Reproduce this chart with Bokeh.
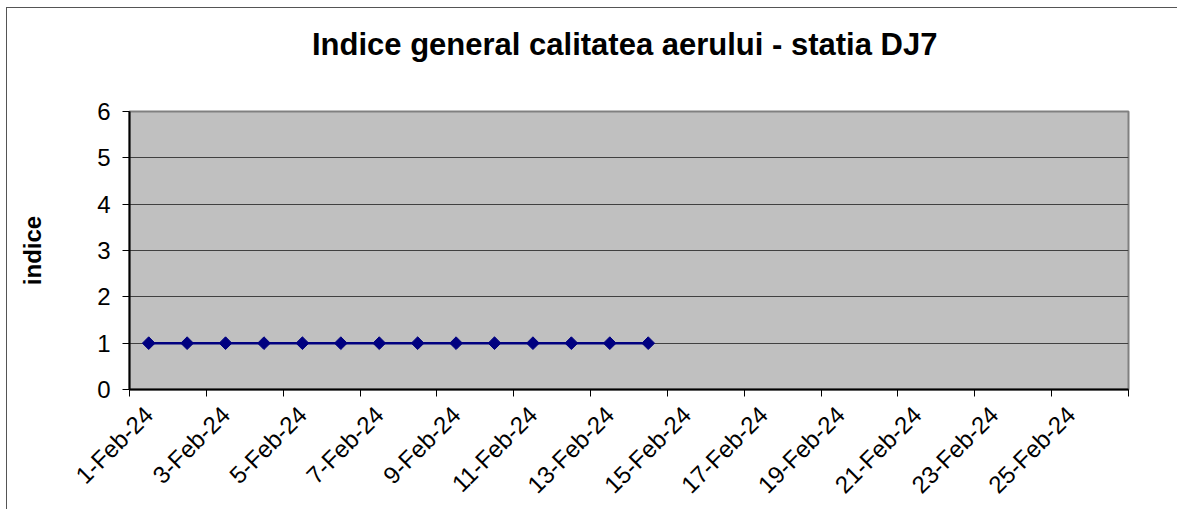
import math
from bokeh.plotting import figure
from bokeh.models import FixedTicker, Range1d, ColumnDataSource, Title
from bokeh.embed import file_html
from bokeh.resources import INLINE

# ---- data ----
categories = ["1-Feb-24", "2-Feb-24", "3-Feb-24", "4-Feb-24", "5-Feb-24", "6-Feb-24",
              "7-Feb-24", "8-Feb-24", "9-Feb-24", "10-Feb-24", "11-Feb-24", "12-Feb-24",
              "13-Feb-24", "14-Feb-24", "15-Feb-24", "16-Feb-24", "17-Feb-24", "18-Feb-24",
              "19-Feb-24", "20-Feb-24", "21-Feb-24", "22-Feb-24", "23-Feb-24", "24-Feb-24",
              "25-Feb-24", "26-Feb-24"]
nan = float("nan")
indice = [1, 1, 1, 1, 1, 1, 1, 1, 1, 1, 1, 1, 1, 1,
          nan, nan, nan, nan, nan, nan, nan, nan, nan, nan, nan, nan]
y_ticks = [0, 1, 2, 3, 4, 5, 6]
title_text = "Indice general calitatea aerului -  statia DJ7"
y_label = "indice"

n = len(categories)
xs = [i + 0.5 for i in range(n)]
src = ColumnDataSource(dict(x=xs, y=indice, cat=categories))

FONT = "Liberation Sans"
NAVY = "#000080"

p = figure(width=1171, height=502, title=None,
           x_range=Range1d(0, n), y_range=Range1d(min(y_ticks), max(y_ticks)),
           output_backend="svg", toolbar_location=None,
           min_border_left=122, min_border_right=50,
           min_border_top=103, min_border_bottom=121)

p.styles = {"margin-left": "6px", "margin-top": "7px",
            "border-top": "1px solid #555555", "border-left": "1px solid #555555"}

p.background_fill_color = "#C0C0C0"
p.border_fill_color = "white"
p.outline_line_color = "#808080"
p.outline_line_width = 2

# spacer between frame and title, then the title itself
p.add_layout(Title(text=" ", text_font_size="1px", standoff=42), "above")
p.add_layout(Title(text=title_text, align="center", text_font=FONT,
                   text_font_size="31px", text_font_style="bold",
                   text_color="black", standoff=10), "above")

# grid
p.xgrid.visible = False
p.ygrid.ticker = FixedTicker(ticks=y_ticks)
p.ygrid.grid_line_color = "#404040"
p.ygrid.grid_line_width = 1

# y axis
ya = p.yaxis[0]
ya.ticker = FixedTicker(ticks=y_ticks)
ya.axis_line_color = "black"
ya.axis_line_width = 2
ya.major_tick_out = 7
ya.major_tick_in = 0
ya.major_tick_line_color = "black"
ya.minor_tick_line_color = None
ya.major_label_text_font = FONT
ya.major_label_text_font_size = "24px"
ya.major_label_text_color = "black"
ya.major_label_standoff = 12
ya.axis_label = y_label
ya.axis_label_text_font = FONT
ya.axis_label_text_font_size = "24px"
ya.axis_label_text_font_style = "bold"
ya.axis_label_text_color = "black"
ya.axis_label_standoff = 48

# x axis: labels on every other category centre, ticks on category boundaries
label_pos = [xs[i] for i in range(0, n, 2)]
tick_pos = [float(i) for i in range(0, n + 1, 2)]
xa = p.xaxis[0]
xa.ticker = FixedTicker(ticks=label_pos, minor_ticks=tick_pos)
xa.major_label_overrides = {xs[i]: categories[i] for i in range(0, n, 2)}
xa.axis_line_color = "black"
xa.axis_line_width = 2
xa.major_tick_line_color = None
xa.major_tick_out = 7
xa.major_tick_in = 0
xa.minor_tick_line_color = "black"
xa.minor_tick_out = 7
xa.minor_tick_in = 0
xa.major_label_orientation = math.pi / 4
xa.major_label_text_font = FONT
xa.major_label_text_font_size = "24px"
xa.major_label_text_color = "black"
xa.major_label_standoff = 14

# series
p.line("x", "y", source=src, line_color=NAVY, line_width=2.5)
p.scatter("x", "y", source=src, marker="square", angle=math.pi / 4, size=9,
          fill_color=NAVY, line_color=NAVY)

open("out.html", "w").write(file_html(p, INLINE))
